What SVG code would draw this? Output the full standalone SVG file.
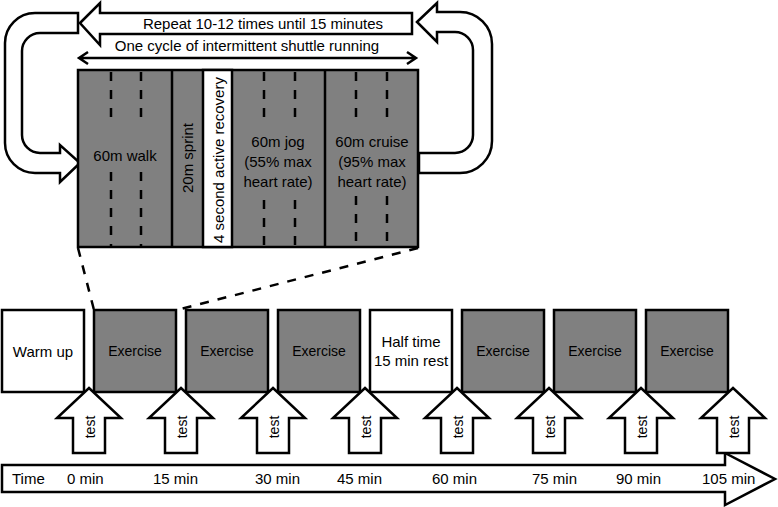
<svg xmlns="http://www.w3.org/2000/svg" width="778" height="507" viewBox="0 0 778 507">
<style>
text{font-family:"Liberation Sans",Arial,sans-serif;font-size:15px;fill:#000}
.c{text-anchor:middle}
.box{stroke:#000;stroke-width:2.5}
.g{fill:#808080}
.w{fill:#fff}
.ol{fill:#fff;stroke:#000;stroke-width:2.5;stroke-linejoin:miter}
.dash{stroke:#000;stroke-width:2.5;stroke-dasharray:9 9;fill:none}
.ln{stroke:#000;stroke-width:2.5;fill:none}
.t{font-size:14px}
</style>
<defs>
<path id="uparrow" d="M0,-65 L32,-35 L16,-35 L16,0 L-16,0 L-16,-35 L-32,-35 Z"/>
</defs>
<rect width="778" height="507" fill="#fff"/>

<g id="connectors">
<path class="ol" d="M80,23 L100,3 L100,13 L412,13 L412,34 L100,34 L100,45 Z"/>
<text class="c" x="263" y="29">Repeat 10-12 times until 15 minutes</text>
<path class="ol" d="M78,13 L35,13 A30,30 0 0 0 5,43 L5,143 A30,30 0 0 0 35,173 L60,173 L60,182 L80,163 L60,145 L60,153 L40,153 A18,18 0 0 1 22,135 L22,51 A18,18 0 0 1 40,33 L78,33 Z"/>
<path class="ol" d="M417,22 L437,3 L437,12 L460,12 A32,32 0 0 1 492,44 L492,141 A32,32 0 0 1 460,173 L419,173 L419,153 L455,153 A18,18 0 0 0 473,135 L473,50 A18,18 0 0 0 455,32 L437,32 L437,42 Z"/>
<path class="ln" d="M79,58 L416,58 M88,52 L79,58 L88,64 M407,52 L416,58 L407,64"/>
<text class="c" x="247" y="51">One cycle of intermittent shuttle running</text>
<path class="dash" d="M78,248 L94,310 M418,248 L177,310"/>
</g>

<g id="cycle">
<rect class="box g" x="78" y="70" width="340" height="177"/>
<rect class="box w" x="203" y="70" width="29" height="177"/>
<path class="ln" d="M172,70 V247 M325,70 V247"/>
<path class="dash" d="M111,72 V125 M141,72 V125 M111,172 V247 M141,172 V247 M264,72 V125 M295,72 V125 M264,200 V247 M295,200 V247 M356,72 V125 M387,72 V125 M356,196 V247 M387,196 V247"/>
<text class="c" x="125" y="161">60m walk</text>
<text class="c" transform="translate(193,158) rotate(-90)">20m sprint</text>
<text class="c" transform="translate(224,160) rotate(-90)">4 second active recovery</text>
<text class="c" x="278" y="147">60m jog</text>
<text class="c" x="278" y="167">(55% max</text>
<text class="c" x="278" y="187">heart rate)</text>
<text class="c" x="372" y="147">60m cruise</text>
<text class="c" x="372" y="167">(95% max</text>
<text class="c" x="372" y="187">heart rate)</text>
</g>

<g id="warmup"><rect class="box w" x="2" y="310" width="82" height="82"/><text class="c" x="43" y="357">Warm up</text></g>
<g id="ex1"><rect class="box g" x="94" y="310" width="82" height="82"/><text class="c t" x="135" y="356">Exercise</text></g>
<g id="ex2"><rect class="box g" x="186" y="310" width="82" height="82"/><text class="c t" x="227" y="356">Exercise</text></g>
<g id="ex3"><rect class="box g" x="278" y="310" width="82" height="82"/><text class="c t" x="319" y="356">Exercise</text></g>
<g id="halftime"><rect class="box w" x="370" y="310" width="82" height="82"/><text class="c" x="411" y="347">Half time</text><text class="c" x="411" y="366">15 min rest</text></g>
<g id="ex4"><rect class="box g" x="462" y="310" width="82" height="82"/><text class="c t" x="503" y="356">Exercise</text></g>
<g id="ex5"><rect class="box g" x="554" y="310" width="82" height="82"/><text class="c t" x="595" y="356">Exercise</text></g>
<g id="ex6"><rect class="box g" x="646" y="310" width="82" height="82"/><text class="c t" x="687" y="356">Exercise</text></g>

<g id="timeline">
<path class="ol" d="M2,465 L725,465 L725,453 L775,479 L725,505 L725,492 L2,492 Z"/>
<text x="12" y="484">Time</text>
<text x="67" y="484">0 min</text>
<text x="153" y="484">15 min</text>
<text x="255" y="484">30 min</text>
<text x="337" y="484">45 min</text>
<text x="432" y="484">60 min</text>
<text x="532" y="484">75 min</text>
<text x="616" y="484">90 min</text>
<text x="702" y="484">105 min</text>
</g>

<g id="test1"><use href="#uparrow" class="ol" x="89" y="453"/><text class="c t" transform="translate(95,427) rotate(-90)">test</text></g>
<g id="test2"><use href="#uparrow" class="ol" x="181" y="453"/><text class="c t" transform="translate(187,427) rotate(-90)">test</text></g>
<g id="test3"><use href="#uparrow" class="ol" x="273" y="453"/><text class="c t" transform="translate(279,427) rotate(-90)">test</text></g>
<g id="test4"><use href="#uparrow" class="ol" x="365" y="453"/><text class="c t" transform="translate(371,427) rotate(-90)">test</text></g>
<g id="test5"><use href="#uparrow" class="ol" x="457" y="453"/><text class="c t" transform="translate(463,427) rotate(-90)">test</text></g>
<g id="test6"><use href="#uparrow" class="ol" x="549" y="453"/><text class="c t" transform="translate(555,427) rotate(-90)">test</text></g>
<g id="test7"><use href="#uparrow" class="ol" x="641" y="453"/><text class="c t" transform="translate(647,427) rotate(-90)">test</text></g>
<g id="test8"><use href="#uparrow" class="ol" x="733" y="453"/><text class="c t" transform="translate(739,427) rotate(-90)">test</text></g>
</svg>
